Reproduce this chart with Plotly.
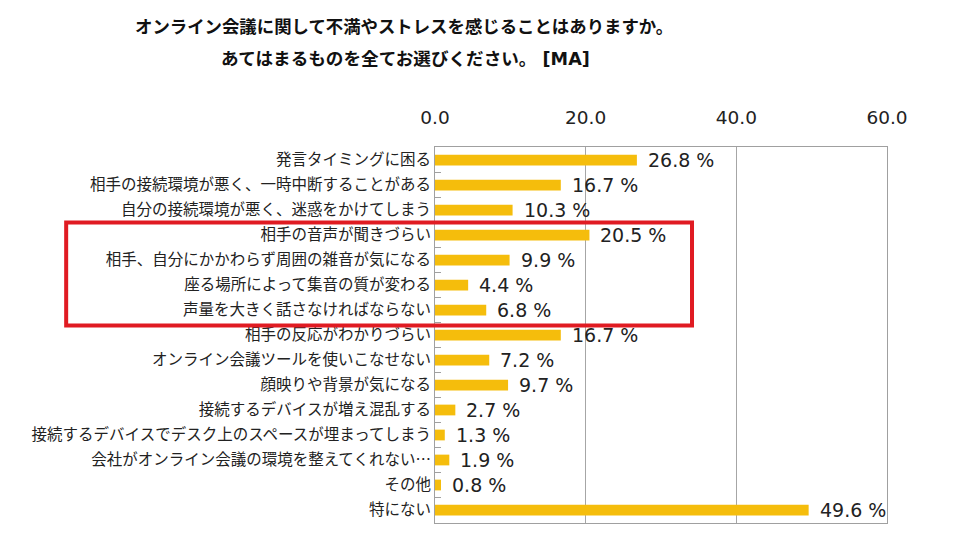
import plotly.graph_objects as go

categories = [
    "発言タイミングに困る",
    "相手の接続環境が悪く、一時中断することがある",
    "自分の接続環境が悪く、迷惑をかけてしまう",
    "相手の音声が聞きづらい",
    "相手、自分にかかわらず周囲の雑音が気になる",
    "座る場所によって集音の質が変わる",
    "声量を大きく話さなければならない",
    "相手の反応がわかりづらい",
    "オンライン会議ツールを使いこなせない",
    "顔映りや背景が気になる",
    "接続するデバイスが増え混乱する",
    "接続するデバイスでデスク上のスペースが埋まってしまう",
    "会社がオンライン会議の環境を整えてくれない…",
    "その他",
    "特にない",
]
values = [26.8, 16.7, 10.3, 20.5, 9.9, 4.4, 6.8, 16.7, 7.2, 9.7, 2.7, 1.3, 1.9, 0.8, 49.6]
tick_vals = [0, 20, 40, 60]
tick_text = ["0.0", "20.0", "40.0", "60.0"]
highlight = ["相手の音声が聞きづらい", "声量を大きく話さなければならない"]

title1 = "オンライン会議に関して不満やストレスを感じることはありますか。"
title2 = "あてはまるものを全てお選びください。 [MA]"

FONT = "DejaVu Sans, Noto Sans CJK JP, sans-serif"
JP = "Noto Sans CJK JP, sans-serif"

fig = go.Figure()
fig.add_trace(go.Bar(
    x=values, y=categories, orientation="h",
    marker=dict(color="#F5BD0C", line=dict(width=0)),
    hoverinfo="skip",
))

for c, v in zip(categories, values):
    fig.add_annotation(
        x=v, y=c, xref="x", yref="y", text=f"{v:.1f} %",
        showarrow=False, xanchor="left", yanchor="middle", xshift=9,
        font=dict(family=FONT, size=19, color="#222222"),
    )

fig.add_annotation(x=-0.068, y=1.323, xref="paper", yref="paper", text=f"<b>{title1}</b>",
                   showarrow=False, xanchor="center", yanchor="middle",
                   font=dict(family=JP, size=17.4, color="#111111"))
fig.add_annotation(x=-0.066, y=1.235, xref="paper", yref="paper", text=f"<b>{title2}</b>",
                   showarrow=False, xanchor="center", yanchor="middle",
                   font=dict(family=FONT, size=17.6, color="#111111"))

i0 = categories.index(highlight[0])
i1 = categories.index(highlight[1])
fig.add_shape(type="rect", xref="paper", yref="y",
              x0=-0.816, x1=0.5686, y0=i0 - 0.5, y1=i1 + 0.62,
              line=dict(color="#E01B22", width=4), fillcolor="rgba(0,0,0,0)")

fig.update_layout(
    width=949, height=535,
    margin=dict(l=427, r=70, t=139, b=20),
    paper_bgcolor="white", plot_bgcolor="white",
    showlegend=False, bargap=0.57,
    xaxis=dict(
        side="top", range=[0, 60], tickvals=tick_vals, ticktext=tick_text,
        showgrid=True, gridcolor="#A6A6A6", gridwidth=1,
        showline=True, linecolor="#A0A0A0", linewidth=1, mirror=True,
        ticks="", ticklabelstandoff=15, zeroline=False,
        tickfont=dict(family=FONT, size=18.5, color="#222222"),
        fixedrange=True,
    ),
    yaxis=dict(
        autorange="reversed", type="category",
        showline=True, linecolor="#A0A0A0", linewidth=1, mirror=True,
        ticks="inside", tickson="boundaries", ticklen=6, tickcolor="#A0A0A0",
        showgrid=False,
        tickfont=dict(family=JP, size=15.5, color="#222222"),
        fixedrange=True,
    ),
)

fig.write_html("out.html")
